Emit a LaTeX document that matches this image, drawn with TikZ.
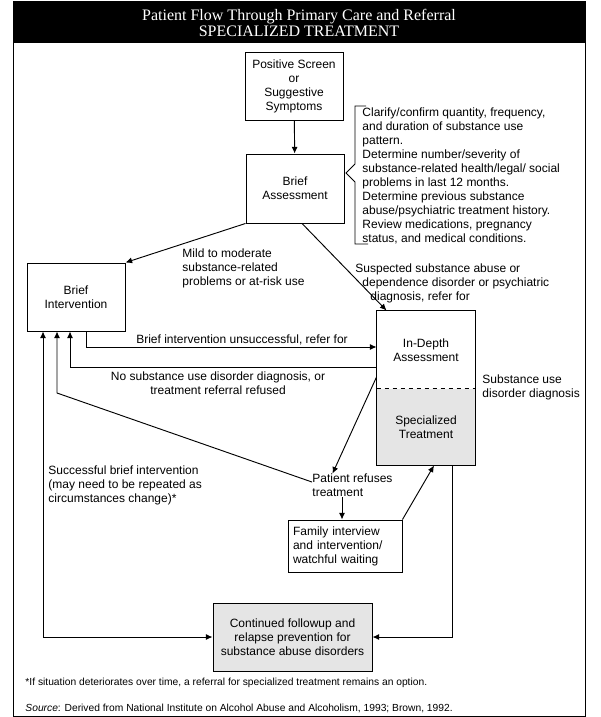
\documentclass[tikz,border=0pt]{standalone}
\usepackage{fontspec}
\setmainfont{Liberation Sans}
\newfontfamily\titlefont{Liberation Serif}
\usetikzlibrary{arrows.meta}
\definecolor{shade}{gray}{0.9}

\begin{document}
\begin{tikzpicture}[
        x=0.75pt, y=-0.75pt,
        font=\fontsize{9}{10.5}\selectfont,
        line width=0.7pt,
        >={Latex[length=5pt, width=4.5pt]},
        block/.style={rectangle, draw, align=center, minimum width=73.5pt, minimum height=51pt, inner sep=2pt},
        note/.style={inner sep=0pt, align=left},
        line/.style={draw, ->}
    ]
        \useasboundingbox (0,0) rectangle (600,717);
        % frame and title bar
        \fill (13,1) rectangle (585,43);
        \draw (13,1) rectangle (585,716);
        \node [text=white, align=center, font=\titlefont\fontsize{12}{12}\selectfont] (title) at (299,23) {Patient Flow Through Primary Care and Referral\\SPECIALIZED TREATMENT};

        % boxes
        \node [block] (screen) at (294,86) {Positive Screen\\or\\Suggestive\\Symptoms};
        \node [block, minimum height=51.75pt] (assess) at (295,188.5) {Brief\\Assessment};
        \node [block] (brief) at (76,297) {Brief\\Intervention};
        \node [minimum width=73.5pt, minimum height=58.5pt, align=center] (indepth) at (426,350) {In-Depth\\Assessment};
        \node [fill=shade, minimum width=73.5pt, minimum height=57pt, align=center] (spec) at (426,427) {Specialized\\Treatment};
        \draw (indepth.north west) rectangle (spec.south east);
        \draw [dashed] (spec.north west) -- (spec.north east);
        \node [block, minimum width=85.5pt, minimum height=39pt, text width=78pt, inner xsep=3.75pt, align=left] (family) at (345,546) {Family interview\\and intervention/\\watchful waiting};
        \node [block, fill=shade, minimum width=119.25pt] (followup) at (292.5,637) {Continued followup and\\relapse prevention for\\substance abuse disorders};

        % assessment checklist with bracket
        \node [note, anchor=west] (checks) at (362,175.5) {Clarify/confirm quantity, frequency,\\and duration of substance use\\pattern.\\Determine number/severity of\\substance-related health/legal/ social\\problems in last 12 months.\\Determine previous substance\\abuse/psychiatric treatment history.\\Review medications, pregnancy\\status, and medical conditions.};
        \draw (366,106) -- (355,106) -- (355,164) -- (346,173) -- (355,182) -- (355,244) -- (368,244);

        % labels
        \node [note, anchor=west] (mild) at (182,268.5) {Mild to moderate\\substance-related\\problems or at-risk use};
        \node [note, anchor=west] (suspect) at (355,283) {Suspected substance abuse or\\\hspace*{5.25pt}dependence disorder or psychiatric\\\hspace*{11.25pt}diagnosis, refer for};
        \node [note] (unsucc) at (242,340) {Brief intervention unsuccessful, refer for};
        \node [note, align=center] (nodiag) at (218,383) {No substance use disorder diagnosis, or\\treatment referral refused};
        \node [note, anchor=west] (sudiag) at (482,387) {Substance use\\disorder diagnosis};
        \node [note, anchor=west] (success) at (48,485) {Successful brief intervention\\(may need to be repeated as\\circumstances change)*};
        \node [note, anchor=west] (refuse) at (312,485.5) {Patient refuses\\treatment};
        \node [note, anchor=west, font=\fontsize{7.7}{8}\selectfont] (foot) at (25,683) {*If situation deteriorates over time, a referral for specialized treatment remains an option.};
        \node [note, anchor=west, font=\fontsize{7.7}{8}\selectfont] (source) at (25,708) {\textit{Source}: Derived from National Institute on Alcohol Abuse and Alcoholism, 1993; Brown, 1992.};

        % connectors
        \coordinate (bend) at (57,393);
        \path [line] (screen) -- (assess);
        \path [line] (assess.south west) -- (brief.north east);
        \path [line] ([xshift=5.25pt]assess.south) -- ([xshift=7.5pt]indepth.north west);
        \path [line] ([xshift=7.5pt]brief.south) |- ([yshift=2.25pt]indepth.west);
        \path [line] ([yshift=-12.75pt]indepth.west) -| ([xshift=-4.5pt]brief.south);
        \path [line] ([yshift=2.6pt]refuse.west) -- (bend) -- (bend |- brief.south);
        \path [line] ([yshift=-20.25pt]indepth.west) -- ([xshift=-15pt]refuse.north);
        \path [line] ([xshift=-2.25pt]family.north |- refuse.south) -- ([xshift=-2.25pt]family.north);
        \path [line] (family.north east) -- ([xshift=6pt]spec.south);
        \path [line] ([xshift=19.5pt]spec.south) |- (followup.east);
        \path [draw, <->] ([xshift=-24.75pt]brief.south) |- (followup.west);
    \end{tikzpicture}
\end{document}
